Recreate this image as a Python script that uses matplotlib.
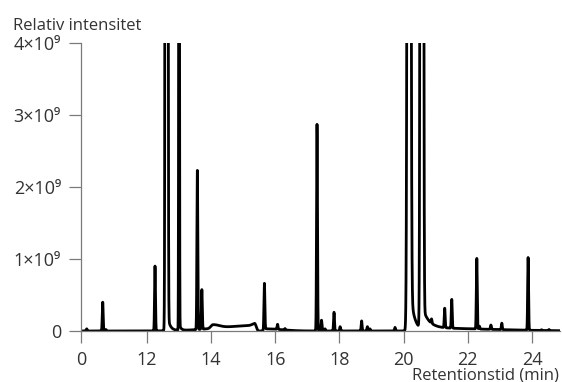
import numpy as np
import matplotlib
matplotlib.use("Agg")
import matplotlib.pyplot as plt

# ---------------- data ----------------
# narrow peaks: retention time (min, on the broken axis), height (x1e9)
peak_times = [10.12, 10.62, 10.72, 12.25, 13.57, 13.71, 15.66, 16.07, 16.30,
              17.30, 17.44, 17.55, 17.83, 18.02, 18.69, 18.87, 18.95, 19.73,
              20.87, 21.28, 21.50, 22.28, 22.36, 22.72, 23.06, 23.88, 24.30, 24.53]
peak_heights = [0.03, 0.40, 0.02, 0.90, 2.21, 0.55, 0.64, 0.07, 0.02,
                2.87, 0.15, 0.03, 0.26, 0.06, 0.14, 0.06, 0.03, 0.05,
                0.06, 0.27, 0.40, 0.98, 0.04, 0.06, 0.09, 1.01, 0.01, 0.015]

# off-scale (clipped) peaks: time, height (x1e9), width, tail height, tail decay
big_times = [12.61, 13.00, 20.168, 20.567]
big_heights = [200.0, 12.0, 51.0, 145.0]
big_widths = [0.020, 0.010, 0.032, 0.025]
big_tail_heights = [0.30, 0.10, 0.80, 0.30]
big_tail_decays = [0.08, 0.05, 0.12, 0.20]

# broad humps in the baseline: centre, height (x1e9), left width, right width
hump_centres = [14.05, 15.35, 15.40, 15.70, 20.60]
hump_heights = [0.05, 0.075, 0.035, 0.03, 0.04]
hump_left = [0.06, 1.10, 0.10, 0.05, 0.05]
hump_right = [0.20, 0.04, 0.03, 0.50, 2.00]

# axis ticks
x_tick_pos = [9.943, 12, 14, 16, 18, 20, 22, 24]
x_tick_labels = ["0", "12", "14", "16", "18", "20", "22", "24"]
y_tick_vals = [0, 1e9, 2e9, 3e9, 4e9]
y_tick_labels = ["0", "1×10⁹", "2×10⁹", "3×10⁹", "4×10⁹"]

# ---------------- build trace ----------------
t = np.arange(9.943, 24.874, 0.0005)
sig = np.zeros_like(t)
narrow_sigma = 0.014
for tp, h in zip(peak_times, peak_heights):
    sig += h * np.exp(-(t - tp) ** 2 / (2 * narrow_sigma ** 2))
for tp, h, s, th, tau in zip(big_times, big_heights, big_widths,
                             big_tail_heights, big_tail_decays):
    d = t - tp
    sig += h * np.exp(-d ** 2 / (2 * s ** 2))
    sig += th * np.where(d > 0, np.exp(-np.clip(d, 0, None) / tau),
                         np.exp(-d ** 2 / (2 * s ** 2)))
for c, h, sl, sr in zip(hump_centres, hump_heights, hump_left, hump_right):
    d = t - c
    s = np.where(d < 0, sl, sr)
    sig += h * np.exp(-d ** 2 / (2 * s ** 2))
y = sig * 1e9

# ---------------- plot ----------------
plt.rcParams['font.family'] = ['Open Sans', 'DejaVu Sans']
fig = plt.figure(figsize=(5.62, 3.82), dpi=100)
W, H = 562, 382
ax = fig.add_axes([81 / W, (H - 331) / H, (560 - 81) / W, (331 - 43) / H])
ax.plot(t, y, color='black', lw=2.0, solid_joinstyle='round')
ax.set_xlim(9.943, 24.874)
ax.set_ylim(0, 4e9)

for s in ['top', 'right']:
    ax.spines[s].set_visible(False)
spine_col = '#7a7a7a'
for s in ['left', 'bottom']:
    ax.spines[s].set_color(spine_col)
    ax.spines[s].set_linewidth(0.9)

ax.set_xticks(x_tick_pos)
ax.set_xticklabels(x_tick_labels)
ax.set_yticks(y_tick_vals)
ax.set_yticklabels(y_tick_labels)
ax.tick_params(axis='both', direction='out', length=8.6, width=0.9,
               color=spine_col, labelcolor='#333333', labelsize=13)
ax.tick_params(axis='x', pad=5.5)
ax.tick_params(axis='y', pad=5.8)

fig.text(13 / W, (H - 29.5) / H, "Relativ intensitet", fontsize=12,
         color='#333333', ha='left', va='baseline')
fig.text(559 / W, (H - 379) / H, "Retentionstid (min)", fontsize=12,
         color='#333333', ha='right', va='baseline')

fig.savefig("out.png", dpi=100)
